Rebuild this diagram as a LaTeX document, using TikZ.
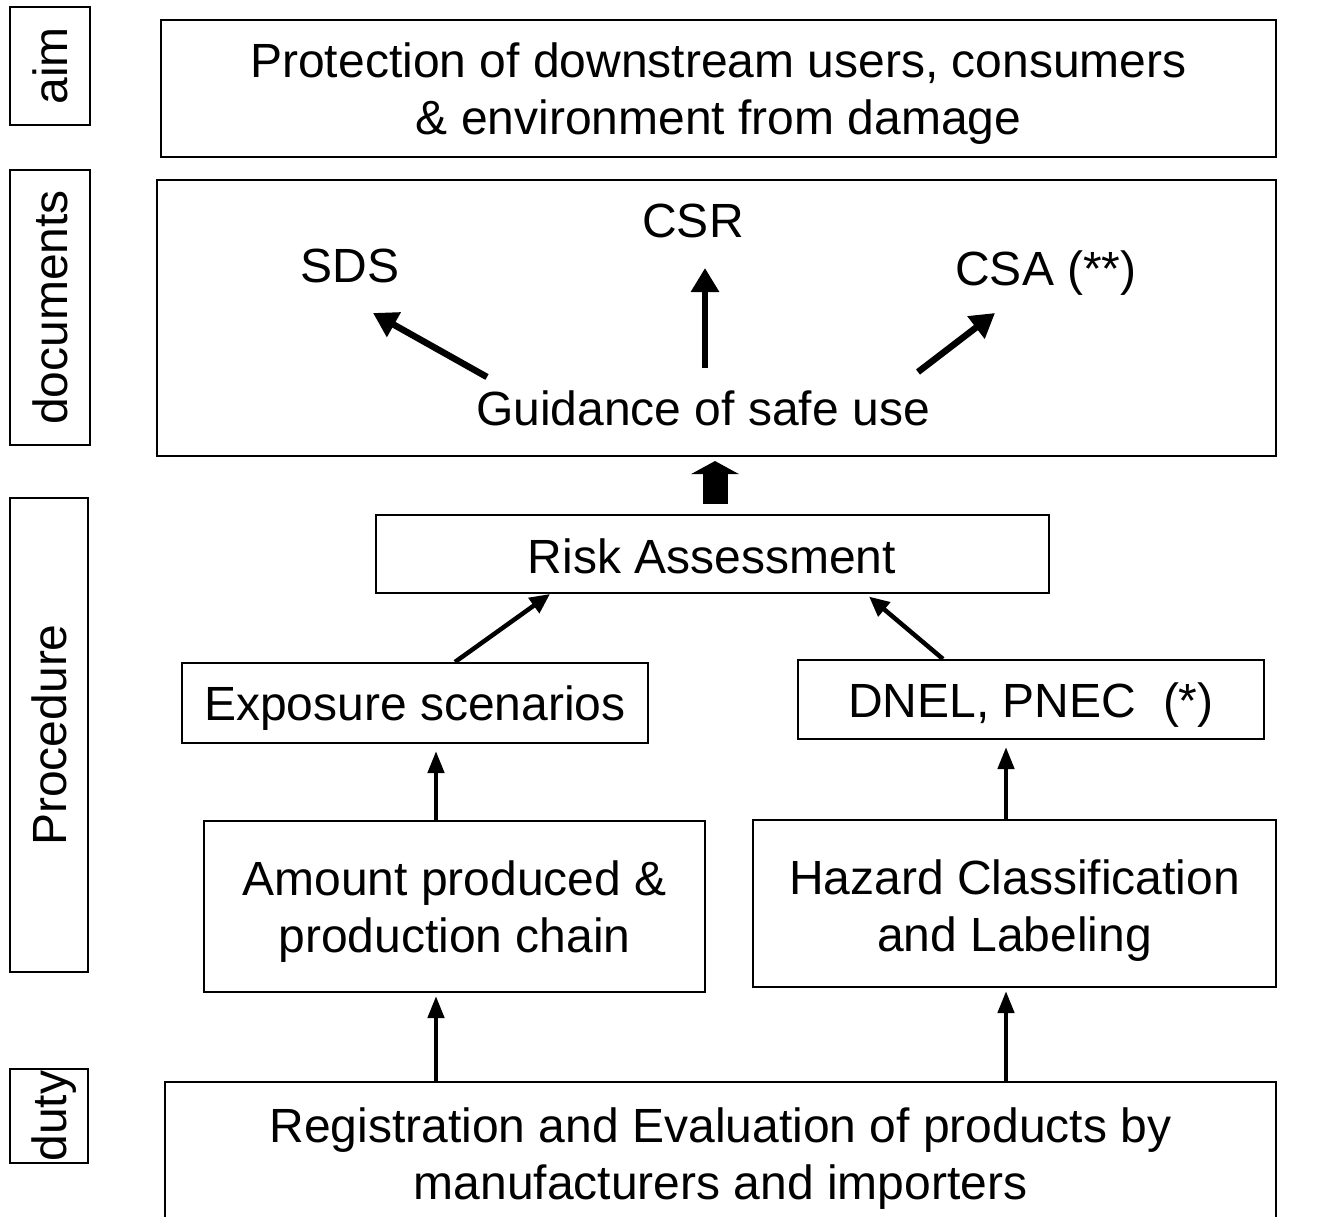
\documentclass[tikz,border=0pt]{standalone}
\usepackage{fontspec}
\setmainfont{Liberation Sans}
\usetikzlibrary{arrows.meta}
\tikzset{
  box/.style={draw, line width=2pt, inner sep=0pt, align=center},
  one/.style={text height=34pt, text depth=0pt},
  lbl/.style={box, one, rotate=90},
  txt/.style={inner sep=0pt, align=center},
  bigarr/.style={line width=6.5pt, -{Triangle[length=24pt,width=27pt]}},
  thinarr/.style={line width=4.5pt, -{Triangle[length=20pt,width=18pt]}},
  vertarr/.style={line width=4.5pt, -{Triangle[length=22pt,width=16pt]}},
  blockarr/.style={line width=25pt, -{Triangle[length=13pt,width=47pt]}}
}
\begin{document}
\begin{tikzpicture}[x=1pt,y=-1pt,font=\fontsize{48}{57}\selectfont]
\useasboundingbox[fill=white] (0,0) rectangle (1322,1216);
% side labels
\node[lbl, minimum width=118pt, minimum height=80pt] (laim) at (50,66) {aim};
\node[lbl, minimum width=275pt, minimum height=80pt] (ldoc) at (50,307.5) {documents};
\node[lbl, minimum width=474pt, minimum height=78pt] (lproc) at (49,735) {Procedure};
\node[lbl, minimum width=94pt, minimum height=78pt] (lduty) at (49,1116) {duty};
% aim box
\node[box, minimum width=1115pt, minimum height=137pt] (aim) at (718.5,88.5) {};
\node[txt] (aimt) at ([yshift=-5.5pt]aim.center)
  {Protection of downstream users, consumers\\ \& environment from damage};
% documents box
\node[box, minimum width=1119pt, minimum height=276pt] (docs) at (716.5,318) {};
\node[txt, one] (csr) at (693,220) {CSR};
\node[txt, one] (sds) at (350,265) {SDS};
\node[txt, one] (csa) at (1046,268) {CSA (**)};
\node[txt, one] (guid) at (703,408) {Guidance of safe use};
% procedure boxes
\node[box, one, text height=38pt, minimum width=673pt, minimum height=78pt] (risk) at (712,554) {Risk Assessment};
\node[box, one, minimum width=466pt, minimum height=80pt] (exp) at (415,703) {Exposure scenarios};
\node[box, one, text height=36pt, minimum width=466pt, minimum height=79pt] (dnel) at (1031,699.5) {DNEL, PNEC\ \ (*)};
\node[box, minimum width=501pt, minimum height=171pt] (amt) at (454.5,906.5) {};
\node[txt] (amtt) at ([yshift=-5.5pt]amt.center) {Amount produced \&\\ production chain};
\node[box, minimum width=523pt, minimum height=167pt] (haz) at (1014.5,903.5) {};
\node[txt] (hazt) at ([yshift=-7pt]haz.center) {Hazard Classification\\ and Labeling};
% duty box
\node[box, minimum width=1111pt, minimum height=146pt] (reg) at (720.5,1155) {};
\node[txt] (regt) at ([yshift=-3.5pt]reg.center)
  {Registration and Evaluation of products by\\ manufacturers and importers};
% arrows in documents box
\draw[bigarr] ([xshift=-216pt,yshift=31pt]guid.center) -- ([xshift=23pt,yshift=-48pt]sds.center);
\draw[bigarr] ([xshift=2pt,yshift=40pt]guid.center) -- ([xshift=12pt,yshift=-48pt]csr.center);
\draw[bigarr] ([xshift=215pt,yshift=36pt]guid.center) -- ([xshift=-51pt,yshift=-45pt]csa.center);
% block arrow
\draw[blockarr, shorten <=10pt, shorten >=4pt] (risk.north -| 715,0) -- (docs.south -| 715,0);
% procedure arrows
\draw[thinarr] ([xshift=40pt]exp.north) -- ([xshift=-162pt]risk.south);
\draw[thinarr, shorten >=4pt] ([xshift=-88pt]dnel.north) -- ([xshift=154pt]risk.south);
\draw[vertarr, shorten >=7pt] (amt.north -| 436,0) -- (exp.south -| 436,0);
\draw[vertarr, shorten >=7pt] (haz.north -| 1006,0) -- (dnel.south -| 1006,0);
\draw[vertarr, shorten >=3pt] (reg.north -| 436,0) -- (amt.south -| 436,0);
\draw[vertarr, shorten >=3pt] (reg.north -| 1006,0) -- (haz.south -| 1006,0);
\end{tikzpicture}
\end{document}
